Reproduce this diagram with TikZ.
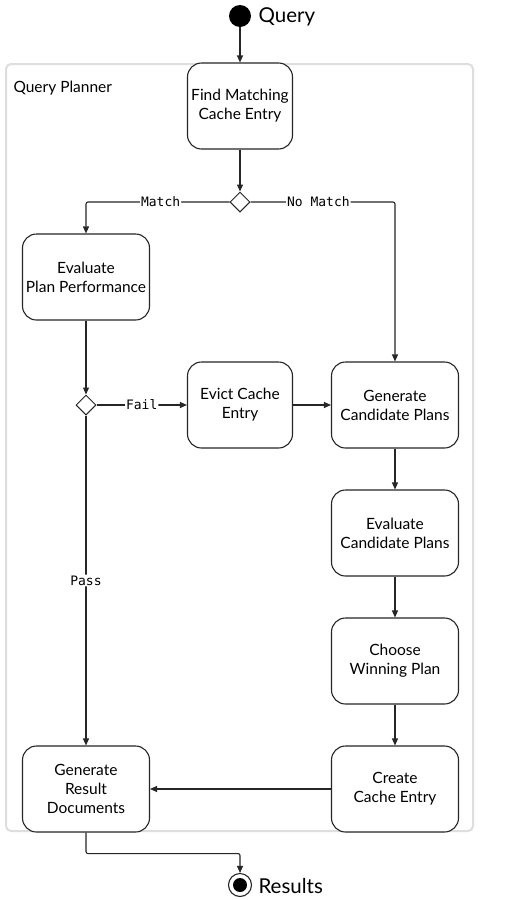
\documentclass[tikz,border=0pt]{standalone}
\usepackage{fontspec}
\setmainfont{Lato}
\newfontfamily\monofont{DejaVu Sans Mono}
\usetikzlibrary{arrows.meta,shapes.geometric}
\begin{document}
\begin{tikzpicture}[x=1pt,y=-1pt,
 act/.style={draw=black!85, line width=1.1pt, rounded corners=14pt, fill=white, align=center,
   font=\fontsize{15.5}{19}\selectfont, inner sep=0pt, minimum width=127pt, minimum height=86pt},
 actsmall/.style={act, minimum width=105pt},
 dec/.style={diamond, draw=black!85, line width=1pt, minimum size=20pt, inner sep=0pt, fill=white},
 flow/.style={draw=black!85, line width=1.1pt, rounded corners=2pt, -{Triangle[width=6pt,length=7pt]}},
 lbl/.style={fill=white, font=\monofont\fontsize{13}{13}\selectfont, inner sep=1pt},
 cont/.style={draw=black!13, line width=2pt, rounded corners=5pt}
]
\useasboundingbox (0,0) rectangle (524,900);
\fill[white] (0,0) rectangle (524,900);

\draw[cont] (6,64) rectangle (473,831);
\node[anchor=west, font=\fontsize{15.5}{17}\selectfont] (title) at (10,88) {Query Planner};

\node[circle, fill=black, minimum size=22pt, inner sep=0pt] (start) at (240,16) {};
\node[anchor=west, font=\fontsize{20.5}{22}\selectfont] (qlbl) at (255,17) {Query};

\node[actsmall] (find) at (240,106) {Find Matching\\Cache Entry};
\node[dec] (d1) at (240,202) {};
\node[act] (evalpp) at (86,277) {Evaluate\\Plan Performance};
\node[dec] (d2) at (86,405) {};
\node[actsmall] (evict) at (240,405) {Evict Cache\\Entry};
\node[act] (gencand) at (395,405) {Generate\\Candidate Plans};
\node[act] (evalcand) at (395,533) {Evaluate\\Candidate Plans};
\node[act] (choose) at (395,661) {Choose\\Winning Plan};
\node[act] (create) at (395,789) {Create\\Cache Entry};
\node[act] (genres) at (86,789) {Generate\\Result\\Documents};

\node[circle, draw=black!85, line width=1.1pt, fill=white, minimum size=23pt, inner sep=0pt] (endc) at (240,885) {};
\node[circle, fill=black, minimum size=14pt, inner sep=0pt] (endin) at (endc.center) {};
\node[anchor=west, font=\fontsize{20.5}{22}\selectfont] (rlbl) at (255,886) {Results};

\draw[flow] (start) -- (find);
\draw[flow] (find) -- (d1);
\draw[flow] (d1.west) -| node[lbl, pos=0.24] {Match} (evalpp.north);
\draw[flow] (d1.east) -| node[lbl, pos=0.235] {No Match} (gencand.north);
\draw[flow] (evalpp) -- (d2);
\draw[flow] (d2.east) -- node[lbl] {Fail} (evict);
\draw[flow] (d2.south) -- node[lbl] {Pass} (genres);
\draw[flow] (evict) -- (gencand);
\draw[flow] (gencand) -- (evalcand);
\draw[flow] (evalcand) -- (choose);
\draw[flow] (choose) -- (create);
\draw[flow] (create) -- (genres);
\draw[flow] (genres.south) -- ++(0,21) -| (endc.north);
\end{tikzpicture}
\end{document}
